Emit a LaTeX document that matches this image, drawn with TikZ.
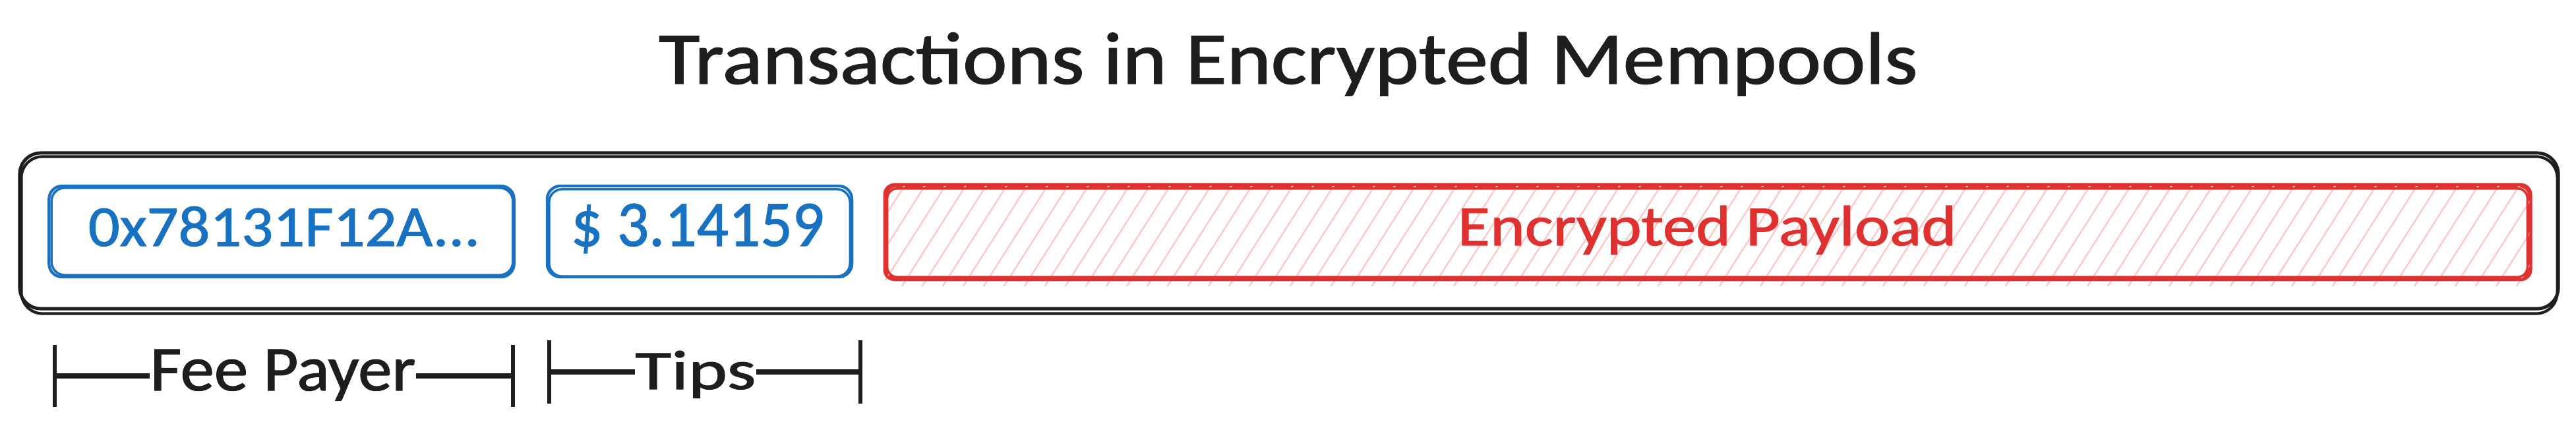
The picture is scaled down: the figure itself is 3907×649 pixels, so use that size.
\documentclass[tikz,border=0pt]{standalone}
\usepackage{fontspec}
\setmainfont{Carlito}
\newfontfamily\midfont{Carlito}[FakeBold=1.2]
\usetikzlibrary{arrows.meta}
\definecolor{inkblack}{HTML}{1E1E1E}
\definecolor{inkblue}{HTML}{1971C2}
\definecolor{inkred}{HTML}{E03131}
\definecolor{hatchred}{HTML}{FFC9C9}
\newcommand{\fitto}[3]{\resizebox{#1}{#2}{#3}}
\begin{document}
\begin{tikzpicture}[x=0.01cm,y=-0.01cm,
  outerbox/.style={draw=inkblack,line width=1.4pt,rounded corners=0.32cm,inner sep=0pt},
  bluebox/.style={draw=inkblue,line width=1.2pt,rounded corners=0.2cm,inner sep=0pt},
  redbox/.style={draw=inkred,line width=1.2pt,rounded corners=0.15cm,inner sep=0pt},
  outerstroke/.style={draw=inkblack,line width=1.2pt,rounded corners=0.32cm},
  bluestroke/.style={draw=inkblue,line width=1.0pt,rounded corners=0.2cm},
  redstroke/.style={draw=inkred,line width=1.0pt,rounded corners=0.15cm},
  hatch/.style={draw=hatchred,line width=0.7pt},
  lbl/.style={inner sep=0pt,anchor=base,font=\midfont},
  dimline/.style={draw=inkblack,line width=2pt},
  dimbar/.style={draw=inkblack,line width=1.8pt}]
\useasboundingbox (0,0) rectangle (3907,649);

% title
\node[lbl,text=inkblack] (title) at (1954,127) {\fitto{19.08cm}{0.78cm}{Transactions in Encrypted Mempools}};

% outer transaction box
\node[outerbox,minimum width=38.48cm,minimum height=2.36cm] (outer) at (1955,350) {};
\draw[outerstroke] ([shift={(5,8)}]outer.north west) rectangle ([shift={(-4,5)}]outer.south east);

% fee payer field
\node[bluebox,minimum width=7.05cm,minimum height=1.38cm] (payer) at (427,351) {};
\draw[bluestroke] ([shift={(6,5)}]payer.north west) rectangle ([shift={(-4,-5)}]payer.south east);
\node[lbl,text=inkblue] (payertxt) at (431,373) {\fitto{5.94cm}{0.60cm}{0x78131F12A...}};

% tips field
\node[bluebox,minimum width=4.62cm,minimum height=1.38cm] (tips) at (1061,351) {};
\draw[bluestroke] ([shift={(5,7)}]tips.north west) rectangle ([shift={(-5,-3)}]tips.south east);
\node[lbl,text=inkblue] (tipstxt) at (1058,373) {\fitto{3.84cm}{0.64cm}{\$ 3.14159}};

% encrypted payload field
\node[redbox,minimum width=24.91cm,minimum height=1.40cm] (payload) at (2590,352) {};
\begin{scope}
  \clip[rounded corners=0.15cm] (payload.north west) rectangle ([shift={(0,10)}]payload.south east);
  \foreach \x in {1240,1271,...,3860}
    \draw[hatch] (\x,440) -- (\x+105,275);
\end{scope}
\draw[redstroke] ([shift={(4,6)}]payload.north west) rectangle ([shift={(-5,-4)}]payload.south east);
\draw[redbox] (payload.north west) rectangle (payload.south east);
\node[lbl,text=inkred] (payloadtxt) at (2589,372) {\fitto{7.56cm}{0.60cm}{Encrypted Payload}};

% dimension labels
\coordinate (fpL) at (80,570);
\coordinate (fpR) at (781,570);
\coordinate (tpL) at (830,564);
\coordinate (tpR) at (1308,564);
\node[lbl,text=inkblack] (fptxt) at (429,592) {\fitto{4.02cm}{0.62cm}{Fee Payer}};
\node[lbl,text=inkblack] (tptxt) at (1055,590) {\fitto{1.83cm}{0.58cm}{Tips}};
\draw[dimline,{Bar[width=0.94cm,line width=1.6pt]}-] (fpL) -- (fptxt.west |- fpL);
\draw[dimline,-{Bar[width=0.94cm,line width=1.6pt]}] (fptxt.east |- fpR) -- (fpR);
\draw[dimline,{Bar[width=0.96cm,line width=1.6pt]}-] (tpL) -- (tptxt.west |- tpL);
\draw[dimline,-{Bar[width=0.96cm,line width=1.6pt]}] (tptxt.east |- tpR) -- (tpR);
\end{tikzpicture}
\end{document}
